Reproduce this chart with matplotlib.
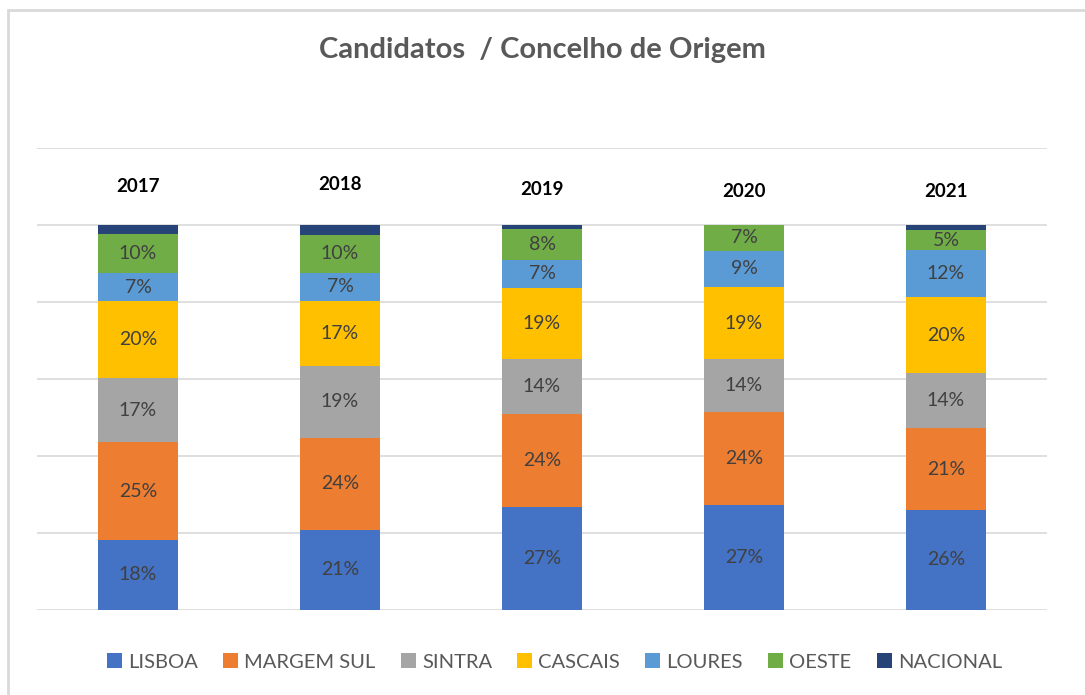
import matplotlib.pyplot as plt
from matplotlib.patches import Rectangle
import numpy as np

plt.rcParams['font.family'] = ['Lato', 'DejaVu Sans']

years = ['2017', '2018', '2019', '2020', '2021']
regions = ['LISBOA', 'MARGEM SUL', 'SINTRA', 'CASCAIS', 'LOURES', 'OESTE', 'NACIONAL']
colors = ['#4472C4', '#ED7D31', '#A5A5A5', '#FFC000', '#5B9BD5', '#70AD47', '#264478']

# shares per region (%), one value per year
lisboa = [18.2, 20.8, 26.8, 27.3, 26.0]
margem_sul = [25.4, 24.0, 24.2, 24.0, 21.2]
sintra = [16.6, 18.6, 14.1, 13.8, 14.4]
cascais = [20.0, 16.9, 18.6, 18.8, 19.6]
loures = [7.3, 7.3, 7.3, 9.4, 12.3]
oeste = [10.2, 9.9, 8.0, 6.7, 5.2]
nacional = [2.3, 2.5, 1.0, 0.0, 1.3]

series = [lisboa, margem_sul, sintra, cascais, loures, oeste, nacional]

# vertical placement of the year captions above the bars
year_label_y = [109.9, 110.4, 109.1, 108.6, 108.6]

fig = plt.figure(figsize=(10.85, 6.95), dpi=100)
ax = fig.add_axes([37 / 1085, 85 / 695, 1010 / 1085, 462 / 695])

x = np.arange(len(years))
bottom = np.zeros(len(years))
bars = []
for name, vals, col in zip(regions, series, colors):
    vals = np.array(vals)
    b = ax.bar(x, vals, 0.4, bottom=bottom, color=col, label=name, zorder=2)
    bars.append(b)
    if name != 'NACIONAL':
        for xi, v, bt in zip(x, vals, bottom):
            if v > 0:
                ax.text(xi, bt + v / 2, f'{round(v):.0f}%', ha='center', va='center',
                        fontsize=14, color='#404040', zorder=3)
    bottom += vals

for xi, yr, yl in zip(x, years, year_label_y):
    ax.text(xi, yl, yr, ha='center', va='center', fontsize=13.5, fontweight='bold', color='black')

ax.set_xlim(-0.5, len(years) - 0.5)
ax.set_ylim(0, 120)
ax.set_yticks(np.arange(0, 121, 20))
ax.yaxis.grid(True, color='#d9d9d9', linewidth=1.2, zorder=0)
ax.set_axisbelow(True)
ax.tick_params(left=False, bottom=False, labelleft=False, labelbottom=False)
for s in ax.spines.values():
    s.set_visible(False)

fig.text(0.5, 0.928, 'Candidatos  / Concelho de Origem', ha='center', va='center',
         fontsize=21, fontweight='bold', color='#595959')

fig.legend(handles=bars, labels=regions, loc='center', bbox_to_anchor=(0.511, 0.0475),
           ncol=7, frameon=False, fontsize=14.5, handlelength=0.75, handleheight=0.75,
           handletextpad=0.3, columnspacing=1.25, labelcolor='#595959')

# outer chart frame
fig.patches.append(Rectangle((8 / 1085, -0.1), 1.2, 1 - 10 / 695 + 0.1, transform=fig.transFigure,
                             fill=False, edgecolor='#d9d9d9', linewidth=2))

fig.savefig('out.png', dpi=100)
